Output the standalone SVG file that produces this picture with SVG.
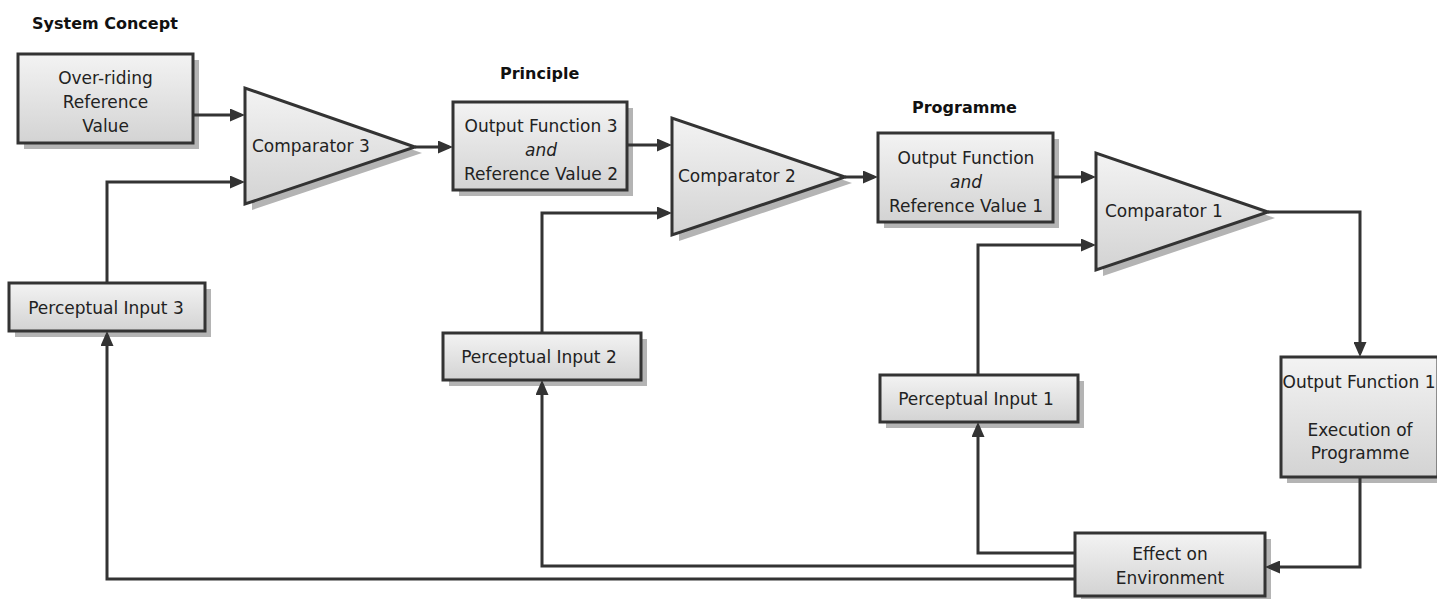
<svg xmlns="http://www.w3.org/2000/svg" width="1437" height="599" viewBox="0 0 1437 599">
<style>
.box{fill:url(#g);stroke:#333;stroke-width:3}
.sh{fill:#b4b4b4}
.t{font-family:"DejaVu Sans",Verdana,sans-serif;font-size:17px;fill:#222}
.c{text-anchor:middle}
.i{font-style:italic}
.h{font-family:"DejaVu Sans",Verdana,sans-serif;font-size:16px;font-weight:bold;fill:#111}
.ln{fill:none;stroke:#333;stroke-width:3;marker-end:url(#arr)}
</style>
<defs>
<linearGradient id="g" x1="0" y1="0" x2="0" y2="1">
<stop offset="0" stop-color="#f3f3f3"/>
<stop offset="1" stop-color="#d3d3d3"/>
</linearGradient>
<marker id="arr" markerUnits="userSpaceOnUse" markerWidth="15" markerHeight="13" refX="11" refY="6.5" orient="auto">
<path d="M0,0 L15,6.5 L0,13 z" fill="#333"/>
</marker>
</defs>
<rect width="1437" height="599" fill="#fff"/>
<g id="titles">
<text class="h" x="32" y="29">System Concept</text>
<text class="h" x="500" y="79">Principle</text>
<text class="h" x="912" y="113">Programme</text>
</g>
<g id="overriding">
<rect class="sh" x="24" y="60" width="175" height="89"/>
<rect class="box" x="18" y="54" width="175" height="89"/>
<text class="t c" x="105.5" y="83.5">Over-riding</text>
<text class="t c" x="105.5" y="107.5">Reference</text>
<text class="t c" x="105.5" y="131.5">Value</text>
</g>
<g id="comparator3">
<polygon class="sh" points="252,94 252,210 422,153"/>
<polygon class="box" points="245,88 245,204 415,147"/>
<text class="t" x="252" y="152">Comparator 3</text>
</g>
<g id="of3">
<rect class="sh" x="459" y="108" width="174" height="88"/>
<rect class="box" x="453" y="102" width="174" height="88"/>
<text class="t c" x="541" y="132">Output Function 3</text>
<text class="t c i" x="541" y="156">and</text>
<text class="t c" x="541" y="180">Reference Value 2</text>
</g>
<g id="comparator2">
<polygon class="sh" points="679,124 679,241 852,183"/>
<polygon class="box" points="672,118 672,235 845,177"/>
<text class="t" x="678" y="182">Comparator 2</text>
</g>
<g id="of">
<rect class="sh" x="884" y="139" width="175" height="89"/>
<rect class="box" x="878" y="133" width="175" height="89"/>
<text class="t c" x="966" y="164">Output Function</text>
<text class="t c i" x="966" y="188">and</text>
<text class="t c" x="966" y="212">Reference Value 1</text>
</g>
<g id="comparator1">
<polygon class="sh" points="1103,159 1103,276 1275,218"/>
<polygon class="box" points="1096,153 1096,270 1268,212"/>
<text class="t" x="1105" y="217">Comparator 1</text>
</g>
<g id="pi3">
<rect class="sh" x="15" y="289" width="196" height="48"/>
<rect class="box" x="9" y="283" width="196" height="48"/>
<text class="t c" x="106" y="314">Perceptual Input 3</text>
</g>
<g id="pi2">
<rect class="sh" x="449" y="339" width="198" height="47"/>
<rect class="box" x="443" y="333" width="198" height="47"/>
<text class="t c" x="539" y="363">Perceptual Input 2</text>
</g>
<g id="pi1">
<rect class="sh" x="886" y="381" width="198" height="47"/>
<rect class="box" x="880" y="375" width="198" height="47"/>
<text class="t c" x="976" y="405">Perceptual Input 1</text>
</g>
<g id="of1">
<rect class="sh" x="1287" y="363" width="157" height="120"/>
<rect class="box" x="1281" y="357" width="157" height="120"/>
<text class="t c" x="1359" y="388">Output Function 1</text>
<text class="t c" x="1360" y="436">Execution of</text>
<text class="t c" x="1360" y="459">Programme</text>
</g>
<g id="effect">
<rect class="sh" x="1081" y="539" width="190" height="63"/>
<rect class="box" x="1075" y="533" width="190" height="63"/>
<text class="t c" x="1170" y="560">Effect on</text>
<text class="t c" x="1170" y="584">Environment</text>
</g>
<g id="connectors">
<path class="ln" d="M193,115 H241"/>
<path class="ln" d="M107,283 V182 H241"/>
<path class="ln" d="M415,147 H449"/>
<path class="ln" d="M627,145 H668"/>
<path class="ln" d="M542,333 V213 H668"/>
<path class="ln" d="M845,177 H874"/>
<path class="ln" d="M1053,177 H1092"/>
<path class="ln" d="M978,375 V245 H1092"/>
<path class="ln" d="M1268,212 H1360 V353"/>
<path class="ln" d="M1360,477 V567 H1269"/>
<path class="ln" d="M1075,553 H978 V426"/>
<path class="ln" d="M1075,566 H542 V384"/>
<path class="ln" d="M1075,579 H107 V335"/>
</g>
</svg>
